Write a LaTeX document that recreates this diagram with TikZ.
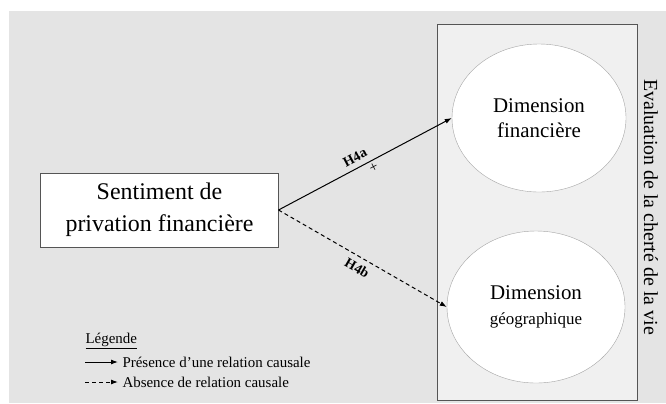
\documentclass[tikz,border=0pt]{standalone}
\usepackage{fontspec}
\setmainfont{Liberation Serif}
\usetikzlibrary{arrows.meta,shapes.geometric}
\definecolor{FondGris}{RGB}{228,228,228}
\definecolor{CadreGris}{RGB}{240,240,240}
\definecolor{BordGris}{RGB}{85,85,85}
\definecolor{BordEllipse}{RGB}{165,165,165}

\begin{document}
\begin{tikzpicture}[x=1bp,y=-1bp,>={Latex[length=7bp,width=5bp]},
  cause/.style={->,line width=1bp},
  nocause/.style={->,line width=1bp,dash pattern=on 4bp off 3bp},
  dimension/.style={ellipse,draw=BordEllipse,fill=white,minimum width=174bp,minimum height=148bp,
    inner sep=0pt,align=center,font=\fontsize{21}{25}\selectfont},
  etiq/.style={font=\bfseries\fontsize{14}{16}\selectfont,inner sep=0.5bp}]
  \useasboundingbox (0,0) rectangle (666,403);
  \fill[FondGris] (9,11) rectangle (666,403);
  \draw[BordGris,fill=CadreGris,line width=1bp] (437,24) rectangle (637,400);
  \node[dimension] (fin) at (539,118) {Dimension\\financière};
  \node[dimension,minimum width=178bp,minimum height=152bp] (geo) at (536,307)
    {Dimension\\{\fontsize{17}{20}\selectfont géographique}};
  \node[rotate=-90,font=\fontsize{20}{24}\selectfont] (cherte) at (651,207)
    {Evaluation de la cherté de la vie};
  \node[draw=BordGris,fill=white,line width=1bp,minimum width=237bp,minimum height=74bp,
    align=center,font=\fontsize{24}{32}\selectfont] (sent) at (159.5,210)
    {Sentiment de\\privation financière};
  % hypotheses
  \draw[cause] (sent.east) -- node[pos=0.47,sloped,above=5bp,etiq] (h4a) {H4a}
    node[pos=0.53,sloped,below=3bp,inner sep=0pt,font=\fontsize{15}{16}\selectfont] (plus) {+} (fin.west);
  \draw[nocause] (sent.east) -- node[pos=0.5,sloped,below=5bp,etiq] (h4b) {H4b} (geo.west);
  % legende
  \node[anchor=west,font=\fontsize{15}{18}\selectfont] (leg) at (82,341) {\underline{Légende}};
  \coordinate (l1a) at (85,362);
  \coordinate (l1b) at (118,362);
  \coordinate (l2a) at (85,382);
  \coordinate (l2b) at (118,382);
  \draw[cause] (l1a) -- (l1b);
  \draw[nocause] (l2a) -- (l2b);
  \node[anchor=west,font=\fontsize{15}{18}\selectfont] (l1t) at (119,362) {Présence d’une relation causale};
  \node[anchor=west,font=\fontsize{15}{18}\selectfont] (l2t) at (119,382) {Absence de relation causale};
\end{tikzpicture}
\end{document}
